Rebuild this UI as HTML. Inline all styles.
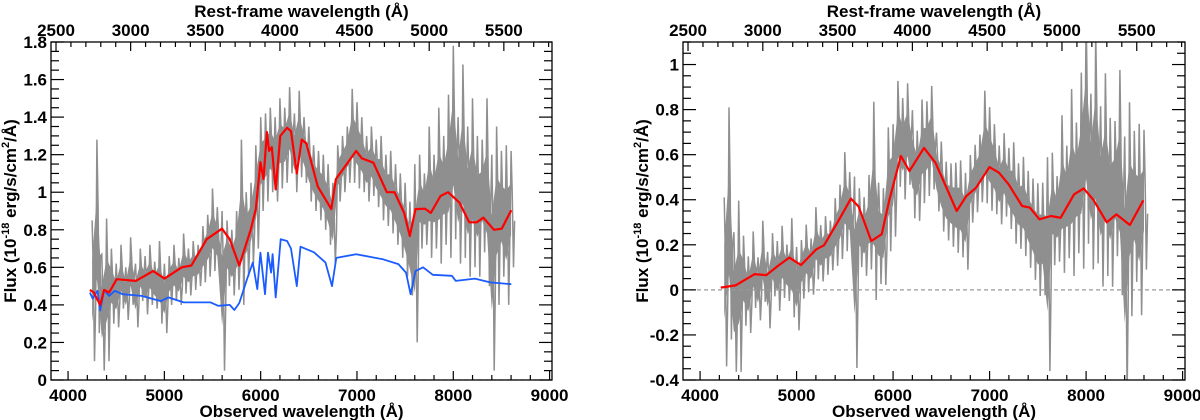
<!DOCTYPE html>
<html><head><meta charset="utf-8">
<style>
html,body{margin:0;padding:0;background:#fff;}
svg{display:block;font-family:"Liberation Sans",Arial,sans-serif;font-weight:bold;}
</style></head>
<body>
<svg id="chart" width="1200" height="420" viewBox="0 0 1200 420" xmlns="http://www.w3.org/2000/svg"></svg>
<script>
// ---------- data ----------
const grayObs = [4250,4300,4350,4400,4450,4500,4550,4600,4650,4700,4750,4800,4850,4900,4950,5000,5050,5100,5150,5200,5250,5300,5350,5400,5450,5500,5550,5600,5650,5700,5750,5800,5850,5900,5950,6000,6050,6100,6150,6200,6250,6300,6350,6400,6450,6500,6550,6600,6650,6700,6750,6800,6850,6900,6950,7000,7050,7100,7150,7200,7250,7300,7350,7400,7450,7500,7550,7600,7650,7700,7750,7800,7850,7900,7950,8000,8050,8100,8150,8200,8250,8300,8350,8400,8450,8500,8550,8600];
const grayUpper = [0.85,1.28,0.67,0.86,0.70,0.62,0.72,0.60,0.76,0.62,0.70,0.66,0.72,0.63,0.74,0.62,0.66,0.72,0.65,0.78,0.70,0.74,0.72,0.82,0.88,1.02,0.92,0.90,0.85,0.80,0.90,1.28,1.00,1.05,1.25,1.40,1.42,1.45,1.40,1.50,1.45,1.56,1.42,1.54,1.40,1.35,1.25,1.22,1.20,1.15,1.05,1.25,1.30,1.35,1.55,1.48,1.40,1.30,1.35,1.28,1.30,1.20,1.22,1.15,1.10,1.05,0.95,1.15,1.20,1.10,1.35,1.20,1.45,1.30,1.52,1.78,1.40,1.68,1.35,1.50,1.30,1.28,1.50,1.20,1.35,1.22,1.25,1.22];
const grayLower = [0.10,0.25,0.05,0.10,0.30,0.28,0.38,0.32,0.40,0.28,0.42,0.35,0.40,0.38,0.30,0.25,0.40,0.42,0.40,0.46,0.45,0.48,0.50,0.52,0.55,0.58,0.56,0.05,0.50,0.45,0.48,0.40,0.55,0.62,0.70,0.90,0.95,1.00,0.95,1.02,1.05,1.10,1.00,1.08,1.05,0.95,0.90,0.85,0.80,0.72,0.62,0.95,1.00,1.05,1.05,1.02,1.00,0.95,0.98,0.92,0.85,0.82,0.78,0.72,0.65,0.55,0.45,0.20,0.70,0.72,0.65,0.70,0.62,0.72,0.65,0.75,0.62,0.65,0.55,0.60,0.55,0.68,0.50,0.05,0.40,0.55,0.40,0.60];
const redObs = [4227,4267,4334,4374,4426,4465,4505,4704,4883,5002,5181,5281,5440,5599,5679,5778,5897,5949,5997,6029,6065,6088,6116,6156,6204,6275,6315,6375,6426,6474,6593,6733,6781,6992,7051,7171,7310,7390,7489,7548,7608,7707,7767,7867,7946,8065,8165,8244,8312,8423,8503,8602];
const redFlux = [0.48,0.466,0.40,0.48,0.466,0.50,0.537,0.528,0.58,0.54,0.60,0.61,0.75,0.806,0.75,0.61,0.80,0.91,1.16,1.07,1.32,1.22,1.24,1.015,1.30,1.343,1.325,1.10,1.28,1.26,1.03,0.91,1.07,1.22,1.18,1.157,1.00,1.00,0.89,0.767,0.91,0.912,0.89,0.98,1.00,0.944,0.84,0.84,0.865,0.80,0.806,0.905];
const blueObs = [4227,4255,4306,4334,4374,4426,4485,4565,4764,4963,5042,5201,5480,5559,5679,5727,5778,5858,5918,5965,5997,6045,6076,6108,6124,6156,6208,6275,6315,6375,6414,6554,6673,6741,6785,6992,7270,7430,7509,7557,7608,7687,7787,7986,8026,8224,8383,8602];
const blueFlux = [0.466,0.434,0.475,0.37,0.48,0.448,0.475,0.457,0.448,0.42,0.44,0.413,0.413,0.395,0.40,0.373,0.41,0.537,0.625,0.484,0.678,0.457,0.678,0.572,0.67,0.44,0.75,0.74,0.70,0.50,0.71,0.68,0.625,0.50,0.65,0.67,0.643,0.617,0.572,0.457,0.58,0.60,0.56,0.555,0.528,0.54,0.52,0.51];
const resObs = [4215,4367,4566,4686,4805,4925,5045,5204,5284,5443,5563,5643,5774,5882,5962,6081,6169,6320,6440,6659,6759,6859,6998,7098,7198,7337,7417,7516,7636,7736,7876,7975,8075,8214,8314,8454,8593];
const resFlux = [0.01,0.02,0.07,0.065,0.106,0.143,0.11,0.18,0.198,0.313,0.405,0.37,0.217,0.247,0.40,0.594,0.527,0.63,0.564,0.35,0.416,0.453,0.545,0.52,0.468,0.372,0.365,0.313,0.328,0.32,0.424,0.45,0.40,0.30,0.335,0.288,0.397];
const xTicks = [4000,5000,6000,7000,8000,9000];
const topTicks = [2500,3000,3500,4000,4500,5000,5500];
const leftYTicks = [0,0.2,0.4,0.6,0.8,1,1.2,1.4,1.6,1.8];
const rightYTicks = [-0.4,-0.2,0,0.2,0.4,0.6,0.8,1];
const onePlusZ = 1.55;

// ---------- helpers ----------
const NS = "http://www.w3.org/2000/svg";
const svg = document.getElementById('chart');
function mk(tag, attrs, parent){ const e=document.createElementNS(NS,tag); for(const k in attrs) e.setAttribute(k,attrs[k]); (parent||svg).appendChild(e); return e; }
function interp(xs, ys, x){ if(x<=xs[0]) return ys[0]; for(let i=1;i<xs.length;i++){ if(x<=xs[i]){ const t=(x-xs[i-1])/(xs[i]-xs[i-1]); return ys[i-1]+t*(ys[i]-ys[i-1]); } } return ys[ys.length-1]; }
function fmt(v){ return (Math.round(v*10)/10).toString(); }

function panel(cfg){
  const g = mk('g',{});
  
  
  const L=cfg.x0, R=cfg.x1, T=42, B=380;
  const xmin=3823, xmax=9025;
  const sx = v => L + (v-xmin)/(xmax-xmin)*(R-L);
  const sy = v => B - (v-cfg.ymin)/(cfg.ymax-cfg.ymin)*(B-T);
  const clip = mk('clipPath',{id:cfg.name+'-clip'},g);
  mk('rect',{x:L,y:T,width:R-L,height:B-T},clip);
  const plot = mk('g',{'clip-path':'url(#'+cfg.name+'-clip)'},g);
  // dense core of the noisy spectrum
  let core=[];
  for(let i=0;i<grayObs.length;i++){ const r=cfg.gU[i]-cfg.gL[i]; core.push(sx(grayObs[i]).toFixed(1)+','+sy(cfg.gU[i]-r*0.28).toFixed(1)); }
  for(let i=grayObs.length-1;i>=0;i--){ const r=cfg.gU[i]-cfg.gL[i]; core.push(sx(grayObs[i]).toFixed(1)+','+sy(cfg.gL[i]+r*0.28).toFixed(1)); }
  const coreEl = mk('polygon',{points:core.join(' '),fill:'#8f8f8f',stroke:'none'},plot);
  
  
  // spikes: zigzag between upper and lower samples
  let pts=[];
  for(let i=0;i<grayObs.length;i++){
    const mid=(cfg.gU[i]+cfg.gL[i])/2;
    pts.push(sx(grayObs[i]).toFixed(1)+','+sy(cfg.gU[i]).toFixed(1));
    pts.push(sx(grayObs[i]+12).toFixed(1)+','+sy(mid+(cfg.gU[i]-mid)*0.3).toFixed(1));
    pts.push(sx(grayObs[i]+25).toFixed(1)+','+sy(cfg.gL[i]).toFixed(1));
    pts.push(sx(grayObs[i]+37).toFixed(1)+','+sy(mid-(mid-cfg.gL[i])*0.2).toFixed(1));
  }
  const band = mk('polyline',{points:pts.join(' '),fill:'none',stroke:'#8f8f8f','stroke-width':1.5,'stroke-linejoin':'miter'},plot);
  
  
  if(cfg.zeroLine){
    const z = mk('line',{x1:L,x2:R,y1:sy(0),y2:sy(0),stroke:'#999','stroke-width':1.3,'stroke-dasharray':'4,3'},plot);
    
    
  }
  cfg.lines.forEach(ln=>{
    const p = ln.xs.map((x,i)=>sx(x).toFixed(1)+','+sy(ln.ys[i]).toFixed(1)).join(' ');
    const pl = mk('polyline',{points:p,fill:'none',stroke:ln.color,'stroke-width':ln.w,'stroke-linejoin':'round'},plot);
    
    
  });
  mk('rect',{x:L,y:T,width:R-L,height:B-T,fill:'none',stroke:'#000','stroke-width':1.3},g);
  for(let v=4000; v<=9000; v+=200){
    const major = v%1000===0; const len = major?9:5;
    mk('line',{x1:sx(v),x2:sx(v),y1:B,y2:B-len,stroke:'#000','stroke-width':1.2},g);
  }
  xTicks.forEach(v=>{
    const t = mk('text',{x:sx(v),y:401,'text-anchor':'middle','font-size':17},g); t.textContent=v;
    
    
  });
  for(let r=2500; r<=5800; r+=100){
    const xx = sx(r*onePlusZ); if(xx<L||xx>R) continue;
    const major = r%500===0; const len = major?9:5;
    mk('line',{x1:xx,x2:xx,y1:T,y2:T+len,stroke:'#000','stroke-width':1.2},g);
  }
  topTicks.forEach(r=>{
    const t = mk('text',{x:sx(r*onePlusZ),y:36,'text-anchor':'middle','font-size':17},g); t.textContent=r;
    
    
  });
  for(let k=Math.round(cfg.ymin*20); k<=Math.round(cfg.ymax*20); k++){
    const v=k/20; const major = k%4===0; const len = major?13:8;
    mk('line',{x1:L,x2:L+len,y1:sy(v),y2:sy(v),stroke:'#000','stroke-width':1.2},g);
    mk('line',{x1:R,x2:R-len,y1:sy(v),y2:sy(v),stroke:'#000','stroke-width':1.2},g);
  }
  cfg.yTicks.forEach(v=>{
    const t = mk('text',{x:L-4,y:sy(v)+6,'text-anchor':'end','font-size':17},g); t.textContent=fmt(v);
    
    
  });
  const xt = mk('text',{x:(L+R)/2,y:417,'text-anchor':'middle','font-size':17},g); xt.textContent='Observed wavelength (Å)';
  
  
  const tt = mk('text',{x:(L+R)/2,y:17,'text-anchor':'middle','font-size':17},g); tt.textContent='Rest-frame wavelength (Å)';
  
  
  const yt = mk('text',{x:0,y:0,'text-anchor':'middle','font-size':17,transform:'translate('+(cfg.ytx)+','+((T+B)/2)+') rotate(-90)'},g);
  yt.innerHTML='Flux (10<tspan dy="-7" font-size="11">-18</tspan><tspan dy="7"> erg/s/cm</tspan><tspan dy="-7" font-size="11">2</tspan><tspan dy="7">/Å)</tspan>';
  
  
}

panel({name:'left-panel',x0:51,x1:552,ymin:0,ymax:1.8,gU:grayUpper,gL:grayLower,yTicks:leftYTicks,ytx:16,zeroLine:true,
  lines:[{xs:blueObs,ys:blueFlux,color:'#1a5cff',w:1.8,name:'stellar-continuum-line'},{xs:redObs,ys:redFlux,color:'#ff0000',w:2.2,name:'total-model-line'}]});

const resUpper = grayObs.map((x,i)=>grayUpper[i]-interp(blueObs,blueFlux,x));
const resLower = grayObs.map((x,i)=>grayLower[i]-interp(blueObs,blueFlux,x));
panel({name:'right-panel',x0:683,x1:1185,ymin:-0.4,ymax:1.1,gU:resUpper,gL:resLower,yTicks:rightYTicks,ytx:648,zeroLine:true,
  lines:[{xs:resObs,ys:resFlux,color:'#ff0000',w:2.2,name:'residual-model-line'}]});
</script>
</body></html>
